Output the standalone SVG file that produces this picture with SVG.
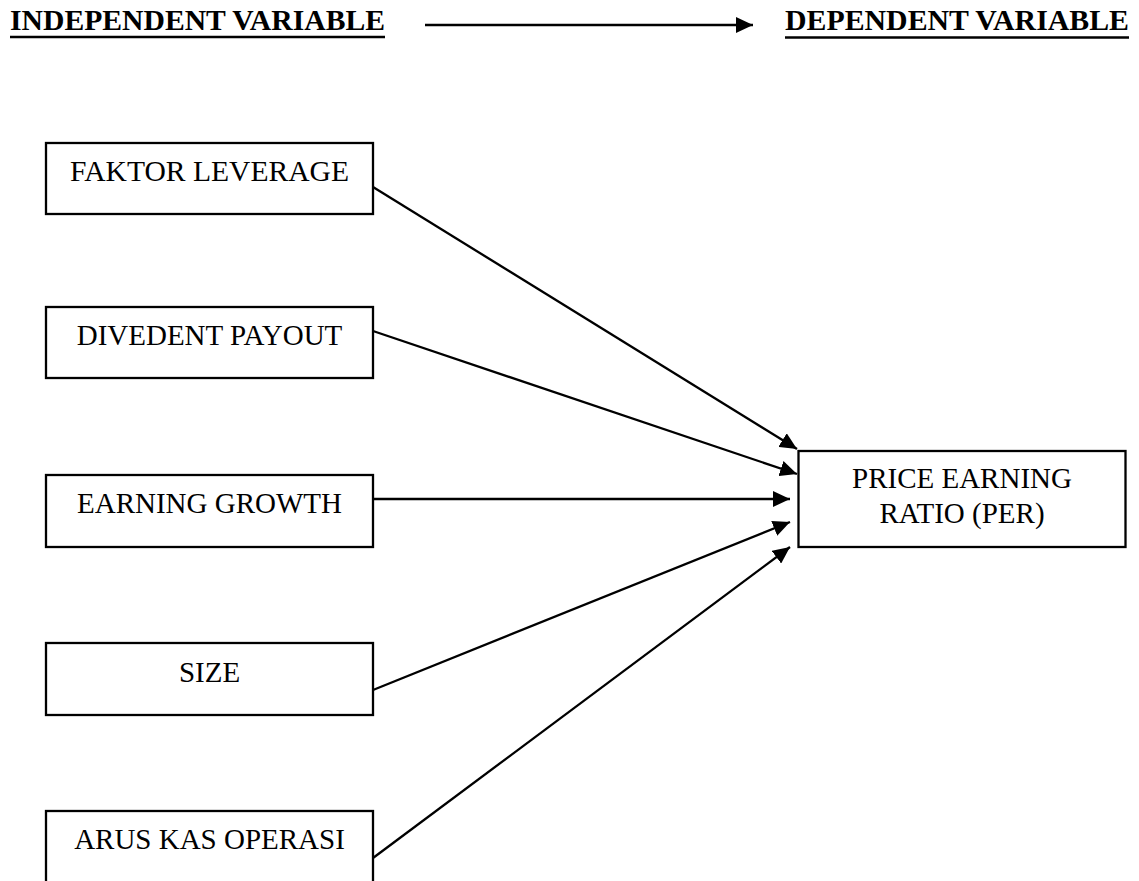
<svg xmlns="http://www.w3.org/2000/svg" width="1139" height="881" viewBox="0 0 1139 881">
<style>
.box{fill:#fff;stroke:#000;stroke-width:2.3}
.lbl{font-family:"Liberation Serif","Times New Roman",serif;font-size:29px;fill:#000;text-anchor:middle}
.hdr{font-family:"Liberation Serif","Times New Roman",serif;font-size:29px;font-weight:bold;fill:#000}
.ul{stroke:#000;stroke-width:2.4}
.conn{stroke:#000;stroke-width:2.3;fill:none;marker-end:url(#ah)}
</style>
<defs>
<marker id="ah" markerUnits="userSpaceOnUse" markerWidth="17" markerHeight="16" refX="17" refY="8" orient="auto">
<path d="M0,0 L17,8 L0,16 z" fill="#000"/>
</marker>
</defs>
<rect width="1139" height="881" fill="#fff"/>
<g id="header">
<text class="hdr" x="10" y="30" textLength="375" lengthAdjust="spacingAndGlyphs">INDEPENDENT VARIABLE</text>
<line class="ul" x1="10" y1="37" x2="385" y2="37"/>
<text class="hdr" x="785" y="30" textLength="344" lengthAdjust="spacingAndGlyphs">DEPENDENT VARIABLE</text>
<line class="ul" x1="785" y1="37.5" x2="1129" y2="37.5"/>
</g>
<g id="connectors">
<line class="conn" x1="425" y1="25" x2="753" y2="25"/>
<line class="conn" x1="373" y1="187" x2="797" y2="449"/>
<line class="conn" x1="373" y1="331" x2="797" y2="474"/>
<line class="conn" x1="373" y1="499" x2="790" y2="499"/>
<line class="conn" x1="373" y1="690" x2="790" y2="522"/>
<line class="conn" x1="373" y1="858" x2="790" y2="547"/>
</g>
<g id="faktor-leverage">
<rect class="box" x="46" y="143" width="327" height="71"/>
<text class="lbl" x="209.5" y="181" textLength="279" lengthAdjust="spacingAndGlyphs">FAKTOR LEVERAGE</text>
</g>
<g id="divedent-payout">
<rect class="box" x="46" y="307" width="327" height="71"/>
<text class="lbl" x="209.5" y="345">DIVEDENT PAYOUT</text>
</g>
<g id="earning-growth">
<rect class="box" x="46" y="475" width="327" height="72"/>
<text class="lbl" x="209.5" y="513">EARNING GROWTH</text>
</g>
<g id="size">
<rect class="box" x="46" y="643" width="327" height="72"/>
<text class="lbl" x="209.5" y="681.5">SIZE</text>
</g>
<g id="arus-kas-operasi">
<rect class="box" x="46" y="811" width="327" height="80"/>
<text class="lbl" x="209.5" y="849">ARUS KAS OPERASI</text>
</g>
<g id="per">
<rect class="box" x="798.5" y="451" width="327" height="96"/>
<text class="lbl" x="962" y="488">PRICE EARNING</text>
<text class="lbl" x="962" y="523">RATIO (PER)</text>
</g>
</svg>
